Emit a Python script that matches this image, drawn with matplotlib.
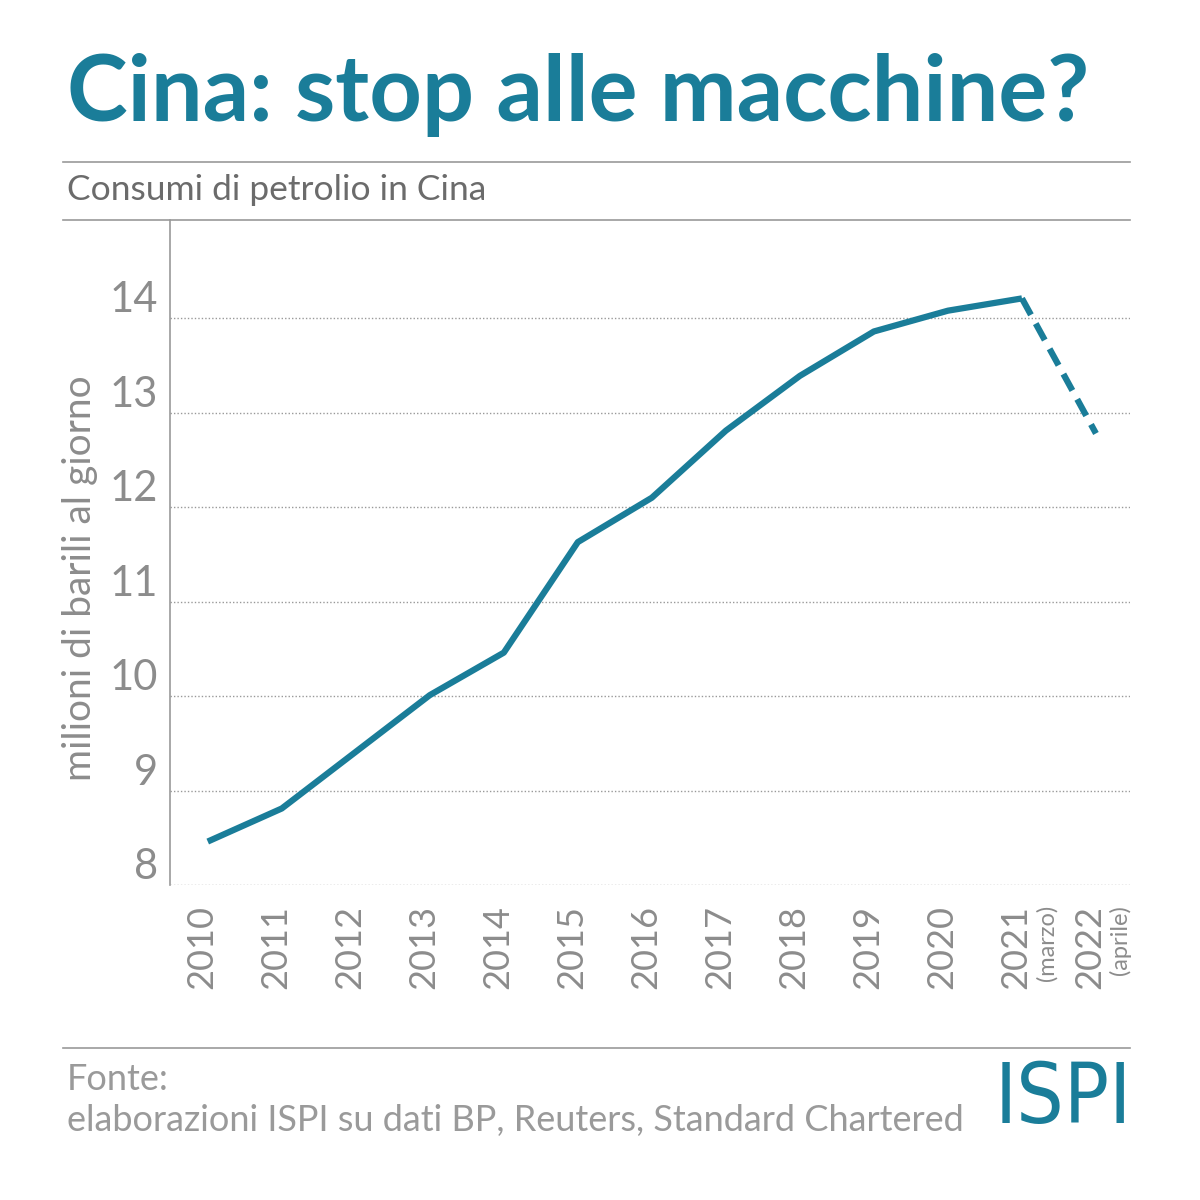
import matplotlib
matplotlib.use('Agg')
import matplotlib.pyplot as plt
import matplotlib.transforms as mtransforms

# data (million barrels per day)
years = [2010, 2011, 2012, 2013, 2014, 2015, 2016, 2017, 2018, 2019, 2020, 2021, 2022]
consumption = [8.46, 8.81, 9.41, 10.01, 10.46, 11.63, 12.10, 12.81, 13.39, 13.86, 14.08, 14.21, 12.78]
year_labels = ['2010', '2011', '2012', '2013', '2014', '2015', '2016', '2017', '2018', '2019', '2020', '2021', '2022']
year_notes = {2021: '(marzo)', 2022: '(aprile)'}
yticks = [8, 9, 10, 11, 12, 13, 14]

TEAL = '#1a7d99'
GRAY = '#8c8c8c'
FONT = 'Lato'

fig = plt.figure(figsize=(12, 12), dpi=100)
ax = fig.add_axes([170 / 1200, 1 - 885 / 1200, 960 / 1200, 665 / 1200])

ax.plot(years[:-1], consumption[:-1], color=TEAL, lw=4.5, solid_capstyle='butt')
ax.plot(years[-2:], consumption[-2:], color=TEAL, lw=4.5, ls=(0, (3, 1.6)))

ax.set_xlim(2009.49, 2022.46)
ax.set_ylim(8, 15.04)
for s in ['top', 'right', 'bottom']:
    ax.spines[s].set_visible(False)
ax.spines['left'].set_color('#999999')
ax.spines['left'].set_linewidth(1.2)
ax.set_xticks([])
ax.set_yticks([])
for v in yticks:
    ax.axhline(v, color='#999999', lw=1, ls=(0, (1, 1.5)), zorder=0)

# y tick labels, slightly above grid lines
trans_y = mtransforms.blended_transform_factory(fig.transFigure, ax.transData)
for v in yticks:
    fig.text(158 / 1200, v + 0.19, str(v), transform=trans_y, ha='right', va='center',
             fontsize=30, color=GRAY, family=FONT)

# x labels
trans_x = mtransforms.blended_transform_factory(ax.transData, fig.transFigure)
for yr, lab in zip(years, year_labels):
    fig.text(yr - 0.08, 1 - 905 / 1200, lab, transform=trans_x, rotation=90, ha='center', va='top',
             fontsize=26, color=GRAY, family=FONT)
    if yr in year_notes:
        fig.text(yr + 0.33, 1 - 905 / 1200, year_notes[yr], transform=trans_x, rotation=90,
                 ha='center', va='top', fontsize=17, color=GRAY, family=FONT)

fig.text(80 / 1200, 1 - 578 / 1200, 'milioni di barili al giorno', rotation=90, ha='center',
         va='center', fontsize=28, color=GRAY, family=FONT)

# title and separators
fig.text(67 / 1200, 1 - 95 / 1200, 'Cina: stop alle macchine?', ha='left', va='center',
         fontsize=66, color=TEAL, family=FONT, fontweight='bold')
for yy in [162, 220, 1048]:
    fig.add_artist(plt.Line2D([63 / 1200, 1130 / 1200], [1 - yy / 1200] * 2,
                              color='#999999', lw=1.2, transform=fig.transFigure))
fig.text(67 / 1200, 1 - 190 / 1200, 'Consumi di petrolio in Cina', ha='left', va='center',
         fontsize=25.5, color='#6b6b6b', family=FONT)

# footer
fig.text(67 / 1200, 1 - 1080 / 1200, 'Fonte:', ha='left', va='center',
         fontsize=26, color='#9a9a9a', family=FONT)
fig.text(67 / 1200, 1 - 1120 / 1200, 'elaborazioni ISPI su dati BP, Reuters, Standard Chartered',
         ha='left', va='center', fontsize=26, color='#9a9a9a', family=FONT)
fig.text(1132 / 1200, 1 - 1100 / 1200, 'ISPI', ha='right', va='center', fontsize=60,
         color=TEAL, family='DejaVu Sans', fontweight='light', fontstretch='condensed')

fig.savefig('out.png', dpi=100, facecolor='white')
